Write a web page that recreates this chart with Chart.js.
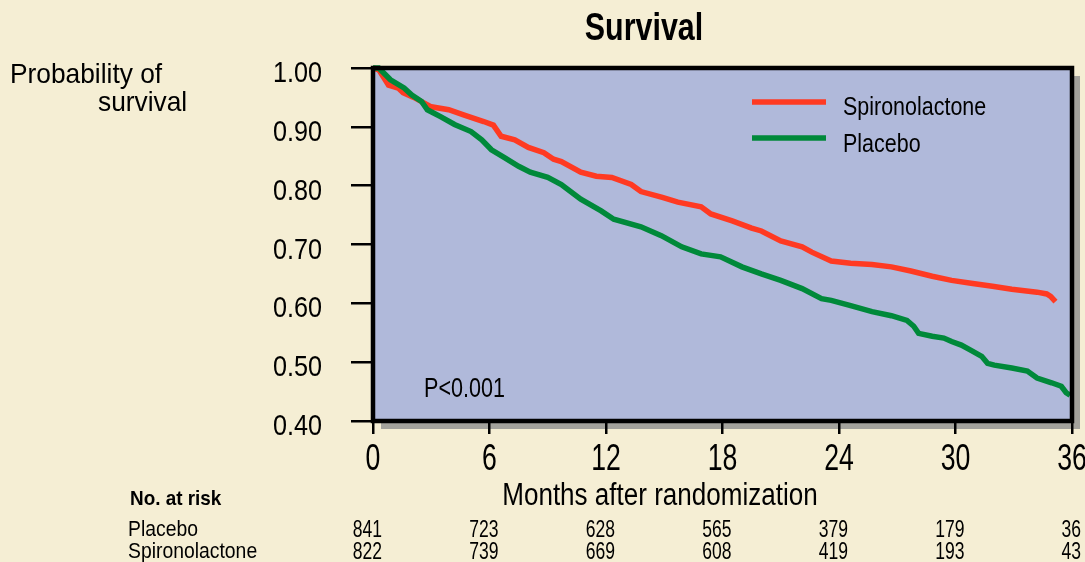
<!DOCTYPE html>
<html>
<head>
<meta charset="utf-8">
<script src="https://cdn.jsdelivr.net/npm/chart.js@4/dist/chart.umd.min.js"></script>
<style>
  body { margin: 0; background: #f5eed4; }
  canvas { display: block; }
</style>
</head>
<body>
<canvas id="kmChart" width="1085" height="562"></canvas>
<script>
// Kaplan-Meier curves (months, probability)
const spiroMonths = [0, 0.3, 0.8, 1.3, 1.55, 2.1, 3.0, 3.9, 4.7, 5.7, 6.2, 6.6, 7.3, 8.0, 8.8, 9.3, 9.7, 10.7, 11.5, 12.3, 13.3, 13.8, 14.9, 15.7, 16.9, 17.4, 18.5, 19.5, 20.0, 21.0, 22.1, 22.6, 23.6, 24.6, 25.7, 26.7, 27.7, 28.8, 29.8, 30.8, 31.9, 32.9, 34.2, 34.7, 34.9, 35.15];
const spiroSurv   = [1.0, 0.997, 0.971, 0.966, 0.958, 0.95, 0.934, 0.929, 0.92, 0.909, 0.903, 0.884, 0.878, 0.865, 0.856, 0.845, 0.841, 0.823, 0.816, 0.814, 0.802, 0.79, 0.78, 0.772, 0.764, 0.752, 0.74, 0.728, 0.723, 0.706, 0.696, 0.687, 0.672, 0.668, 0.666, 0.662, 0.655, 0.646, 0.639, 0.634, 0.629, 0.624, 0.619, 0.616, 0.612, 0.603];

const placeboMonths = [0, 0.3, 0.9, 1.6, 2.0, 2.5, 2.8, 3.5, 4.2, 5.05, 5.6, 6.1, 6.75, 7.5, 8.1, 9.0, 9.7, 10.7, 11.75, 12.4, 13.8, 14.85, 15.9, 16.9, 17.9, 19.0, 20.0, 21.0, 22.1, 23.1, 23.6, 24.6, 25.7, 26.7, 27.5, 27.85, 28.1, 28.8, 29.4, 29.8, 30.3, 30.8, 31.35, 31.65, 32.0, 32.9, 33.7, 34.2, 34.95, 35.45, 35.7, 35.9];
const placeboSurv   = [1.0, 1.0, 0.98, 0.966, 0.954, 0.943, 0.929, 0.917, 0.904, 0.892, 0.878, 0.861, 0.848, 0.833, 0.823, 0.814, 0.802, 0.777, 0.757, 0.743, 0.73, 0.715, 0.696, 0.684, 0.679, 0.662, 0.65, 0.639, 0.625, 0.608, 0.605, 0.596, 0.586, 0.579, 0.571, 0.561, 0.549, 0.544, 0.541, 0.535, 0.529, 0.52, 0.51, 0.498, 0.495, 0.49, 0.485, 0.473, 0.465, 0.459, 0.448, 0.444];

// number at risk table
const riskMonths = [0, 6, 12, 18, 24, 30, 36];
const riskPlacebo = [841, 723, 628, 565, 379, 179, 36];
const riskSpiro = [822, 739, 669, 608, 419, 193, 43];

const RED = '#ff3a22';
const GREEN = '#00893a';

const toXY = (xs, ys) => xs.map((m, i) => ({ x: m, y: ys[i] }));

// the original uses a condensed Helvetica; squeeze Liberation Sans to match
function txt(ctx, s, x, y, size, sx, align, bold) {
  ctx.save();
  ctx.translate(x, y);
  ctx.scale(sx, 1);
  ctx.font = (bold ? 'bold ' : '') + size + "px 'Liberation Sans', Arial, sans-serif";
  ctx.textAlign = align;
  ctx.textBaseline = 'alphabetic';
  ctx.fillStyle = '#000';
  ctx.fillText(s, 0, 0);
  ctx.restore();
}

const framePlugin = {
  id: 'frame',
  beforeDraw(chart) {
    const { ctx, chartArea: a } = chart;
    ctx.save();
    ctx.fillStyle = '#f5eed4';
    ctx.fillRect(0, 0, chart.width, chart.height);
    // drop shadow
    ctx.fillStyle = '#a3a29c';
    ctx.fillRect(a.left + 8, a.top + 8, a.right - a.left, a.bottom - a.top);
    ctx.fillStyle = '#b0b9da';
    ctx.fillRect(a.left, a.top, a.right - a.left, a.bottom - a.top);
    ctx.restore();
  },
  afterDatasetsDraw(chart) {
    const { ctx, chartArea: a, scales } = chart;
    ctx.save();
    ctx.strokeStyle = '#000';
    ctx.lineWidth = 4.5;
    ctx.strokeRect(a.left, a.top, a.right - a.left, a.bottom - a.top);
    ctx.restore();

    // tick labels
    scales.y.ticks.forEach(t => {
      const y = scales.y.getPixelForValue(t.value);
      txt(ctx, t.value.toFixed(2), 322, y + 14, 30, 0.84, 'right');
    });
    scales.x.ticks.forEach(t => {
      const x = scales.x.getPixelForValue(t.value);
      txt(ctx, String(t.value), x, 470, 37, 0.72, 'center');
    });

    txt(ctx, 'Survival', 644, 40, 39, 0.78, 'center', true);
    txt(ctx, 'Probability of', 10, 83, 28, 0.94, 'left');
    txt(ctx, 'survival', 98, 111, 28, 0.94, 'left');

    // legend inside plot
    const items = [['Spironolactone', RED, 102, 115], ['Placebo', GREEN, 138, 152]];
    items.forEach(([label, color, y, base]) => {
      ctx.save();
      ctx.strokeStyle = color;
      ctx.lineWidth = 5.5;
      ctx.beginPath();
      ctx.moveTo(752, y);
      ctx.lineTo(826, y);
      ctx.stroke();
      ctx.restore();
      txt(ctx, label, 843, base, 26.5, 0.81, 'left');
    });

    txt(ctx, 'P<0.001', 424, 397, 28, 0.77, 'left');
    txt(ctx, 'Months after randomization', 660, 505, 31, 0.84, 'center');

    // risk table
    txt(ctx, 'No. at risk', 130, 505, 21, 0.9, 'left', true);
    txt(ctx, 'Placebo', 128, 536, 22, 0.88, 'left');
    txt(ctx, 'Spironolactone', 128, 558, 22, 0.88, 'left');
    riskMonths.forEach((m, i) => {
      const x = scales.x.getPixelForValue(m) + 9;
      txt(ctx, String(riskPlacebo[i]), x, 537, 24, 0.73, 'right');
      txt(ctx, String(riskSpiro[i]), x, 559, 24, 0.73, 'right');
    });
  }
};

new Chart(document.getElementById('kmChart'), {
  type: 'line',
  data: {
    datasets: [
      {
        label: 'Spironolactone',
        data: toXY(spiroMonths, spiroSurv),
        borderColor: RED,
        borderWidth: 5.5,
        pointRadius: 0,
        tension: 0,
        clip: 6,
        order: 2
      },
      {
        label: 'Placebo',
        data: toXY(placeboMonths, placeboSurv),
        borderColor: GREEN,
        borderWidth: 5.5,
        pointRadius: 0,
        tension: 0,
        clip: 6,
        order: 1
      }
    ]
  },
  options: {
    responsive: false,
    animation: false,
    layout: { padding: { top: 68, right: 13, bottom: 91, left: 0 } },
    plugins: {
      legend: { display: false },
      title: { display: false },
      tooltip: { enabled: false }
    },
    scales: {
      x: {
        type: 'linear',
        min: 0,
        max: 36,
        afterFit: s => { s.height = 50; s.paddingLeft = 0; s.paddingRight = 0; },
        border: { display: false },
        grid: { drawOnChartArea: false, drawTicks: true, tickLength: 13, color: '#000', lineWidth: 2.5 },
        ticks: { stepSize: 6, display: false }
      },
      y: {
        min: 0.4,
        max: 1.0,
        afterFit: s => { s.width = 373; s.paddingTop = 0; s.paddingBottom = 0; },
        border: { display: false },
        grid: { drawOnChartArea: false, drawTicks: true, tickLength: 22, color: '#000', lineWidth: 2.5 },
        ticks: { stepSize: 0.1, display: false }
      }
    }
  },
  plugins: [framePlugin]
});
</script>
</body>
</html>
